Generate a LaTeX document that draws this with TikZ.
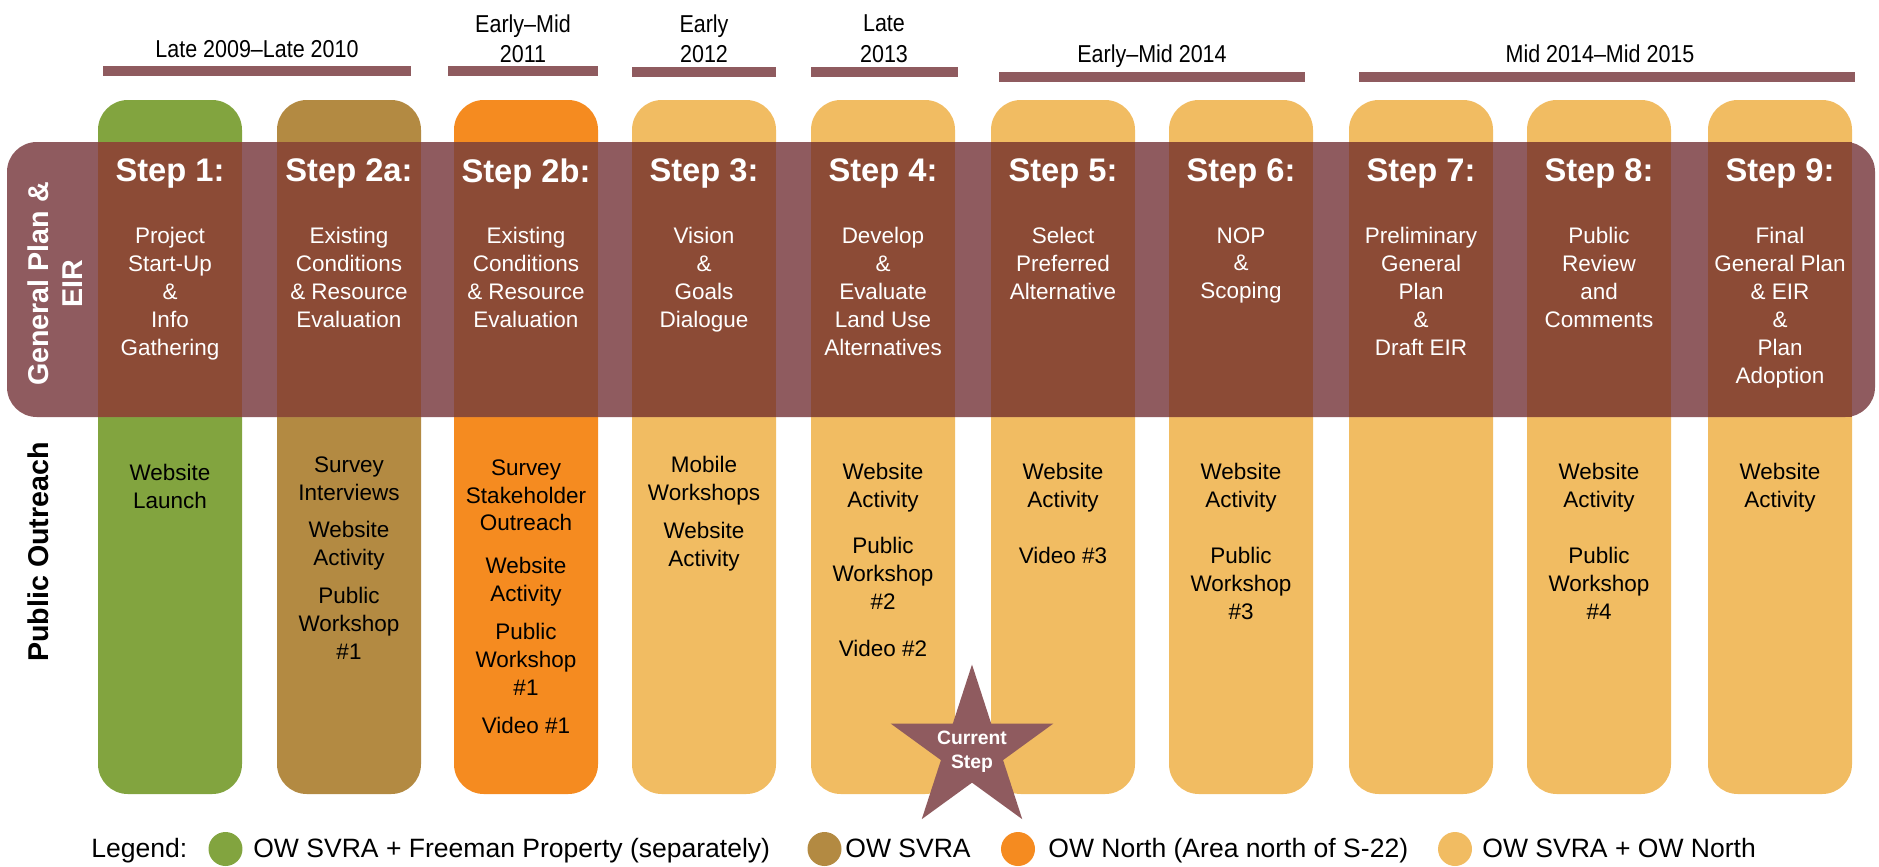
\documentclass[tikz,border=0pt]{standalone}
\usepackage{fontspec}
\setmainfont{Liberation Sans}
\newfontfamily\narrowfont[FakeStretch=0.88]{Liberation Sans}
\usetikzlibrary{positioning, calc, shapes.geometric}
\definecolor{gpgreen}{HTML}{82A43F}
\definecolor{gpolive}{HTML}{B38A42}
\definecolor{gporange}{HTML}{F58B20}
\definecolor{gpyellow}{HTML}{F1BC62}
\definecolor{gpmauve}{HTML}{8F5B5F}
\definecolor{gprust}{HTML}{8C4B36}
\tikzset{
    roadmap/.style={x=0.02cm, y=-0.02cm},
    period/.style={font=\narrowfont\fontsize{13.9}{17.6}\selectfont, align=center, inner sep=0pt},
    steptitle/.style={text=white, font=\bfseries\fontsize{18.6}{22}\selectfont, anchor=north, inner sep=0pt},
    stepdesc/.style={text=white, font=\fontsize{12.8}{15.9}\selectfont, align=center, anchor=north, inner sep=0pt},
    outreach/.style={text=black, font=\fontsize{12.8}{15.9}\selectfont, align=center, anchor=north, inner sep=0pt},
    rowlabel/.style={font=\bfseries\fontsize{16.3}{19.6}\selectfont, rotate=90, align=center, inner sep=0pt},
    legendtext/.style={font=\fontsize{15.1}{18}\selectfont, anchor=base west, inner sep=0pt},
    % legend colour dots
    swatch/.style={circle, minimum size=0.68cm, inner sep=0pt},
}

\begin{document}
\begin{tikzpicture}[roadmap]
    \useasboundingbox (0,0) rectangle (1879,866);

    % time periods
    \foreach \a/\b/\t in {103/411/66, 448/598/66, 632/776/67, 811/958/67, 999/1305/72, 1359/1855/72}
        \fill[gpmauve] (\a,\t) rectangle (\b,\t+10);
    \node[period, anchor=base]  (per1) at (257,57)   {Late 2009–Late 2010};
    \node[period, anchor=north] (per2) at (523,14)   {Early–Mid\\2011};
    \node[period, anchor=north] (per3) at (704,14)   {Early\\2012};
    \node[period, anchor=north] (per4) at (884,14)   {Late\\2013};
    \node[period, anchor=base]  (per5) at (1152,62)  {Early–Mid 2014};
    \node[period, anchor=base]  (per6) at (1600,62)  {Mid 2014–Mid 2015};

    % columns
    \foreach \x/\c in {98/gpgreen, 277/gpolive, 454/gporange, 632/gpyellow, 811/gpyellow,
                       991/gpyellow, 1169/gpyellow, 1349/gpyellow, 1527/gpyellow, 1708/gpyellow}
        \fill[\c, rounded corners=17pt] (\x,100) rectangle ++(144,694);

    % General Plan & EIR band
    \fill[gpmauve, rounded corners=17pt] (7,142) rectangle (1875,417);
    \foreach \x in {98, 277, 454, 632, 811, 991, 1169, 1349, 1527, 1708}
        \fill[gprust] (\x,142) rectangle ++(144,275);

    \node[rowlabel, text=white] (gplabel) at (55,284) {General Plan \&\\EIR};
    \node[rowlabel, text=black] (polabel) at (38,552) {Public Outreach};

    \foreach \x/\s [count=\i] in {170/1, 349/2a, 526/2b, 704/3, 883/4, 1063/5, 1241/6, 1421/7, 1599/8, 1780/9}
        \node[steptitle] (step\i) at (\x,158) {Step \s:};

    \foreach \x/\d [count=\i] in {
        170/{Project\\Start-Up\\\&\\Info\\Gathering},
        349/{Existing\\Conditions\\\& Resource\\Evaluation},
        526/{Existing\\Conditions\\\& Resource\\Evaluation},
        704/{Vision\\\&\\Goals\\Dialogue},
        883/{Develop\\\&\\Evaluate\\Land Use\\Alternatives},
        1063/{Select\\Preferred\\Alternative},
        1241/{NOP\\\&\\Scoping},
        1421/{Preliminary\\General\\Plan\\\&\\Draft EIR},
        1599/{Public\\Review\\and\\Comments},
        1780/{Final\\General Plan\\\& EIR\\\&\\Plan\\Adoption}}
        \node[stepdesc] (desc\i) at (\x,227) {\d};

    % public outreach
    \node[outreach] (out1)  at (170,464)  {Website\\Launch};
    \node[outreach] (out2)  at (349,456)  {Survey\\Interviews\\[5.7pt]Website\\Activity\\[5.7pt]Public\\Workshop\\\#1};
    \node[outreach] (out3)  at (526,459)  {Survey\\Stakeholder\\Outreach\\[8.5pt]Website\\Activity\\[5.7pt]Public\\Workshop\\\#1\\[5.7pt]Video \#1};
    \node[outreach] (out4)  at (704,456)  {Mobile\\Workshops\\[5.7pt]Website\\Activity};
    \node[outreach] (out5)  at (883,463)  {Website\\Activity\\[10.5pt]Public\\Workshop\\\#2\\[10.5pt]Video \#2};
    \node[outreach] (out6)  at (1063,463) {Website\\Activity\\[15.8pt]Video \#3};
    \node[outreach] (out7)  at (1241,463) {Website\\Activity\\[15.8pt]Public\\Workshop\\\#3};
    \node[outreach] (out9)  at (1599,463) {Website\\Activity\\[15.8pt]Public\\Workshop\\\#4};
    \node[outreach] (out10) at (1780,463) {Website\\Activity};

    % current step marker
    \node[star, star points=5, star point ratio=2.618, fill=gpmauve, minimum size=3.42cm, inner sep=0pt] (current) at (972,750) {};
    \node[text=white, font=\bfseries\fontsize{11}{13.7}\selectfont, align=center, inner sep=0pt] (currenttext) at (972,752) {Current\\Step};

    % legend
    \node[legendtext] (legend) at (91,857.5) {Legend:};
    \node[swatch, fill=gpgreen]  (sw1) at (225.5,849) {};
    \node[legendtext] (lg1) at (253,857.5) {OW SVRA + Freeman Property (separately)};
    \node[swatch, fill=gpolive]  (sw2) at (824.5,849) {};
    \node[legendtext] (lg2) at (845,857.5) {OW SVRA};
    \node[swatch, fill=gporange] (sw3) at (1018,849) {};
    \node[legendtext] (lg3) at (1048,857.5) {OW North (Area north of S-22)};
    \node[swatch, fill=gpyellow] (sw4) at (1455,849) {};
    \node[legendtext] (lg4) at (1482,857.5) {OW SVRA + OW North};
\end{tikzpicture}
\end{document}
